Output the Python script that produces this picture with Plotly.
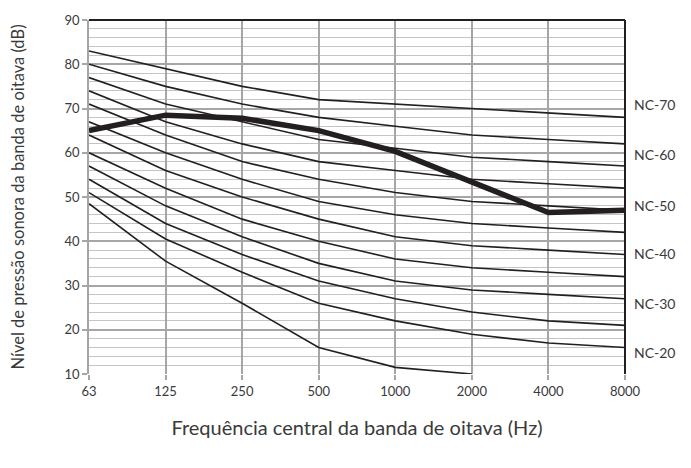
import plotly.graph_objects as go

freqs = ["63", "125", "250", "500", "1000", "2000", "4000", "8000"]

nc_curves = {
    "NC-15": [48.5, 35.5, 26, 16, 11.5, 10, None, None],
    "NC-20": [51, 40.5, 33, 26, 22, 19, 17, 16],
    "NC-25": [54, 44, 37, 31, 27, 24, 22, 21],
    "NC-30": [57, 48, 41, 35, 31, 29, 28, 27],
    "NC-35": [60, 52, 45, 40, 36, 34, 33, 32],
    "NC-40": [64, 56, 50, 45, 41, 39, 38, 37],
    "NC-45": [67, 60, 54, 49, 46, 44, 43, 42],
    "NC-50": [71, 64, 58, 54, 51, 49, 48, 47],
    "NC-55": [74, 67, 62, 58, 56, 54, 53, 52],
    "NC-60": [77, 71, 67, 63, 61, 59, 58, 57],
    "NC-65": [80, 75, 71, 68, 66, 64, 63, 62],
    "NC-70": [83, 79, 75, 72, 71, 70, 69, 68],
}

measured = [65, 68.5, 67.8, 65, 60.3, 53.3, 46.5, 47]

label_texts = ["NC-70", "NC-60", "NC-50", "NC-40", "NC-30", "NC-20"]
label_y = [70.8, 59.5, 48.0, 37.3, 26.0, 14.8]

FONT = "Lato, 'Open Sans', sans-serif"
INK = "#231f20"
TXT = "#3a3a3a"

fig = go.Figure()
for name, vals in nc_curves.items():
    fig.add_trace(go.Scatter(x=freqs, y=vals, mode="lines", name=name,
                             line=dict(color=INK, width=1.6), showlegend=False,
                             connectgaps=False))
fig.add_trace(go.Scatter(x=freqs, y=measured, mode="lines", name="Medido",
                         line=dict(color=INK, width=5.5), showlegend=False))

for t, yv in zip(label_texts, label_y):
    fig.add_annotation(x=1, xref="paper", y=yv, yref="y", text=t, showarrow=False,
                       xanchor="left", xshift=7, font=dict(family=FONT, size=14, color=TXT))

fig.add_shape(type="line", xref="paper", yref="paper", x0=0, x1=1, y0=1, y1=1,
              line=dict(color=INK, width=2))
fig.add_shape(type="line", xref="paper", yref="paper", x0=1, x1=1, y0=0, y1=1,
              line=dict(color=INK, width=2))

fig.update_layout(
    width=683, height=460,
    margin=dict(l=81, r=66, t=12, b=94),
    paper_bgcolor="white", plot_bgcolor="white",
    font=dict(family=FONT, size=13, color=TXT),
)
fig.update_xaxes(
    type="category", range=[0, 7], automargin=False,
    showgrid=True, gridcolor="#a6a6a6", gridwidth=1.5,
    ticks="outside", ticklen=5, tickcolor="#a6a6a6", tickwidth=1.5,
    showline=False, zeroline=False,
    tickfont=dict(family=FONT, size=13, color=TXT),
    title=dict(text="Frequência central da banda de oitava (Hz)",
               font=dict(family=FONT, size=20, color=TXT), standoff=23),
)
fig.update_yaxes(
    range=[10, 90], dtick=10, tick0=10, automargin=False,
    showgrid=True, gridcolor="#a6a6a6", gridwidth=1.5,
    minor=dict(dtick=2, showgrid=True, gridcolor="#c4c4c4", gridwidth=1.4),
    ticks="outside", ticklen=5, tickcolor="#a6a6a6", tickwidth=1.5,
    showline=True, linecolor="#a6a6a6", linewidth=1.5, zeroline=False,
    tickfont=dict(family=FONT, size=13, color=TXT),
    title=dict(text="Nível de pressão sonora da banda de oitava (dB)",
               font=dict(family=FONT, size=16.5, color=TXT), standoff=48),
)

fig.write_html("out.html")
